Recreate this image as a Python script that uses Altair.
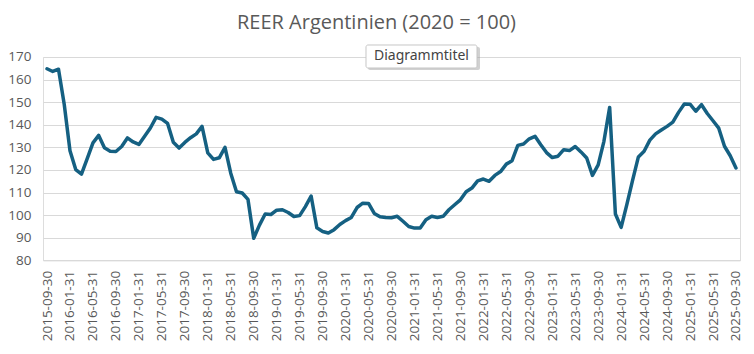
import altair as alt
import pandas as pd

# Monthly month-end dates, 2015-09-30 .. 2025-09-30
dates = [d.strftime("%Y-%m-%d") for d in pd.date_range("2015-09-30", periods=121, freq="ME")]

reer = [
    164.8, 163.6, 164.6, 149.0, 128.5, 120.2, 118.2, 125.0, 132.0, 135.3,
    129.8, 128.3, 128.2, 130.4, 134.2, 132.4, 131.3, 134.9, 138.6, 143.3,
    142.5, 140.6, 132.3, 129.7, 132.2, 134.3, 136.0, 139.3, 127.6, 124.7,
    125.4, 130.0, 118.6, 110.4, 109.8, 107.0, 89.8, 95.6, 100.5, 100.3,
    102.2, 102.4, 101.2, 99.4, 99.8, 103.8, 108.5, 94.4, 92.8, 92.1,
    93.6, 95.9, 97.6, 99.0, 103.4, 105.3, 105.2, 100.8, 99.3, 99.0,
    98.9, 99.5, 97.3, 95.0, 94.3, 94.3, 98.0, 99.5, 99.0, 99.5,
    102.4, 104.6, 106.8, 110.4, 112.0, 115.2, 116.0, 115.0, 117.6, 119.3,
    122.6, 124.1, 130.9, 131.5, 133.8, 134.9, 131.2, 127.7, 125.5, 126.1,
    129.0, 128.6, 130.4, 128.0, 125.3, 117.6, 122.3, 132.7, 147.7, 100.5,
    94.6, 104.8, 115.5, 125.8, 128.3, 133.2, 136.0, 137.7, 139.3, 141.2,
    145.5, 149.2, 149.1, 146.0, 148.9, 145.0, 141.8, 138.5, 130.5, 126.3,
    120.9,
]

tick_labels = dates[::4]
y_ticks = [80, 90, 100, 110, 120, 130, 140, 150, 160, 170]

title_text = "REER Argentinien (2020 = 100)"
tooltip_text = ["Diagrammtitel"]

df = pd.DataFrame({"date": dates, "reer": reer})
tip = pd.DataFrame({"t": tooltip_text})

FONT = "Open Sans"
GRAY = "#595959"

line = alt.Chart(df).mark_line(
    color="#156082", strokeWidth=3.5, strokeJoin="round", strokeCap="round"
).encode(
    x=alt.X(
        "date:O",
        sort=None,
        scale=alt.Scale(type="point", padding=0.7),
        axis=alt.Axis(
            values=tick_labels, labelAngle=-90, title=None, ticks=False,
            domain=False, grid=False, labelPadding=10, labelFontSize=13.5,
            labelColor=GRAY, labelFont=FONT,
        ),
    ),
    y=alt.Y(
        "reer:Q",
        scale=alt.Scale(domain=[80, 170], nice=False, zero=False),
        axis=alt.Axis(
            values=y_ticks, title=None, ticks=False, domain=False,
            grid=True, gridColor="#d9d9d9", gridWidth=1, labelPadding=12,
            labelFontSize=13.5, labelColor=GRAY, labelFont=FONT,
        ),
    ),
)

shadow = alt.Chart(tip).mark_rect(color="#9a9a9a", opacity=0.45, cornerRadius=2).encode(
    x=alt.value(325), x2=alt.value(437), y=alt.value(-10), y2=alt.value(13)
)
box = alt.Chart(tip).mark_rect(
    fill="white", stroke="#c6c6c6", strokeWidth=1, cornerRadius=2
).encode(
    x=alt.value(323), x2=alt.value(434), y=alt.value(-12), y2=alt.value(11)
)
label = alt.Chart(tip).mark_text(
    font="Noto Sans", fontSize=14, color="#444444", align="center", baseline="middle"
).encode(
    x=alt.value(378.5), y=alt.value(-0.5), text="t:N"
)

chart = alt.layer(line, shadow, box, label).properties(
    width=697,
    height=203.4,
    title=alt.Title(
        title_text, fontSize=20, color=GRAY, font=FONT, fontWeight="normal",
        anchor="middle", dx=-15, offset=11,
    ),
    autosize=alt.AutoSizeParams(type="none"),
    padding={"left": 43, "top": 57, "right": 14, "bottom": 94},
).configure_view(stroke=None).configure(background="white")

chart.save("out.html", embed_options={"renderer": "svg", "actions": False})
